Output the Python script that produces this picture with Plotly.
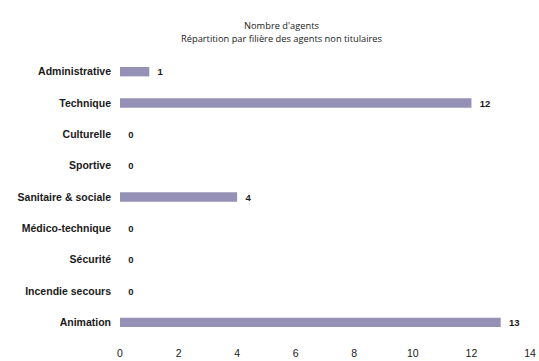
import plotly.graph_objects as go

# Filières (top to bottom) and number of non-titular agents
filieres = [
    "Administrative",
    "Technique",
    "Culturelle",
    "Sportive",
    "Sanitaire & sociale",
    "Médico-technique",
    "Sécurité",
    "Incendie secours",
    "Animation",
]
agents = [1, 12, 0, 0, 4, 0, 0, 0, 13]
x_ticks = [0, 2, 4, 6, 8, 10, 12, 14]
title_lines = ["Nombre d'agents", "Répartition par filière des agents non titulaires"]

fig = go.Figure(
    go.Bar(
        y=filieres,
        x=agents,
        orientation="h",
        width=0.3,
        marker=dict(color="#9590b6", line=dict(width=0)),
        text=["  " + str(v) for v in agents],
        textposition="outside",
        constraintext="none",
        textfont=dict(family="Liberation Sans", size=9.5, color="#1a1a1a", weight="bold"),
        cliponaxis=False,
    )
)

# Two-line centred title, one annotation per line
title_y = [26, 38]  # pixel rows from the top of the page
plot_top, plot_h = 56, 282
annotations = []
for line, py in zip(title_lines, title_y):
    annotations.append(
        dict(
            text=line,
            x=0.395, xref="paper", xanchor="center",
            y=1 + (plot_top - py) / plot_h, yref="paper", yanchor="middle",
            showarrow=False,
            font=dict(family="Open Sans", size=9.3, color="#1a1a1a"),
        )
    )

fig.update_layout(
    width=539,
    height=361,
    margin=dict(l=120, r=9, t=plot_top, b=361 - plot_top - plot_h),
    paper_bgcolor="white",
    plot_bgcolor="white",
    showlegend=False,
    annotations=annotations,
)

fig.update_yaxes(
    categoryorder="array",
    categoryarray=filieres,
    autorange="reversed",
    automargin=False,
    showgrid=False,
    zeroline=False,
    showline=False,
    ticks="",
    ticklabelstandoff=8,
    tickfont=dict(family="Liberation Sans", size=10.5, color="#1a1a1a", weight="bold"),
)
fig.update_xaxes(
    range=[0, 14],
    tickvals=x_ticks,
    automargin=False,
    showgrid=False,
    zeroline=False,
    showline=False,
    ticks="",
    ticklabelstandoff=7,
    tickfont=dict(family="Liberation Sans", size=10.5, color="#1a1a1a"),
)

fig.write_html("out.html")
